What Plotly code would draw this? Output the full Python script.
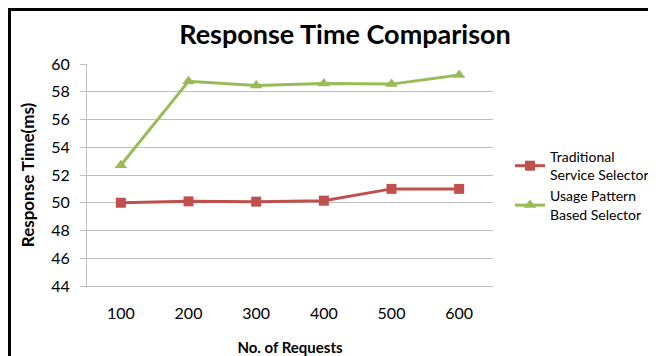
import plotly.graph_objects as go

requests = ["100", "200", "300", "400", "500", "600"]
traditional = [50.0, 50.1, 50.08, 50.15, 51.0, 51.0]
usage_pattern = [52.7, 58.75, 58.45, 58.6, 58.55, 59.2]
y_ticks = [44, 46, 48, 50, 52, 54, 56, 58, 60]

# The page body has an 8px default margin, so figure pixels = reference pixels - 8
OFF = 8
W, H = 656 - OFF, 356 - OFF
L, R, T, B = 87 - OFF, 493 - OFF, 64 - OFF, 286 - OFF

def px(x):
    return (x - OFF - L) / (R - L)

def py(y):
    return (B - (y - OFF)) / (B - T)

fig = go.Figure()
fig.add_trace(go.Scatter(
    x=requests, y=traditional, mode="lines+markers",
    name="Traditional<br>Service Selector",
    line=dict(color="#C0504D", width=3),
    marker=dict(symbol="square", size=10, color="#C0504D"),
))
fig.add_trace(go.Scatter(
    x=requests, y=usage_pattern, mode="lines+markers",
    name="Usage Pattern<br>Based Selector",
    line=dict(color="#9BBB59", width=3),
    marker=dict(symbol="triangle-up", size=11, color="#9BBB59"),
))

font = "Lato, 'Open Sans', sans-serif"
fig.update_layout(
    width=W, height=H,
    margin=dict(l=L, r=W - R, t=T, b=H - B, autoexpand=False),
    paper_bgcolor="white", plot_bgcolor="white",
    font=dict(family=font, color="#000000", size=16),
    title=dict(text="<b>Response Time Comparison</b>", xref="container",
               x=(345 - OFF) / W, xanchor="center", yref="container",
               y=1 - (35 - OFF) / H, yanchor="middle",
               font=dict(size=27, family=font)),
    showlegend=True,
    legend=dict(x=px(510), y=py(141), xanchor="left", yanchor="top",
                font=dict(size=14, family=font), tracegroupgap=1,
                bgcolor="rgba(0,0,0,0)", itemwidth=30),
    xaxis=dict(
        type="category", range=[-0.5, 5.5], automargin=False,
        showgrid=False, showline=True, linecolor="#BFBFBF", linewidth=1,
        ticks="", tickfont=dict(size=16), ticklabelstandoff=13,
        title=dict(text="<b>No. of Requests</b>", font=dict(size=15), standoff=26),
    ),
    yaxis=dict(
        range=[44, 60], tickvals=y_ticks, showgrid=True, gridcolor="#BFBFBF",
        gridwidth=1, showline=True, linecolor="#BFBFBF", linewidth=1,
        ticks="outside", ticklen=6, tickcolor="#BFBFBF", automargin=False,
        tickfont=dict(size=16), zeroline=False, ticklabelstandoff=7,
        title=dict(text="<b>Response Time(ms)</b>", font=dict(size=17), standoff=12),
    ),
    shapes=[
        dict(type="line", xref="paper", yref="paper", x0=px(9.5), x1=px(9.5),
             y0=py(8.5), y1=py(370), line=dict(color="black", width=3)),
        dict(type="line", xref="paper", yref="paper", x0=px(8), x1=px(670),
             y0=py(9.5), y1=py(9.5), line=dict(color="black", width=3)),
    ],
)

fig.write_html("out.html")
